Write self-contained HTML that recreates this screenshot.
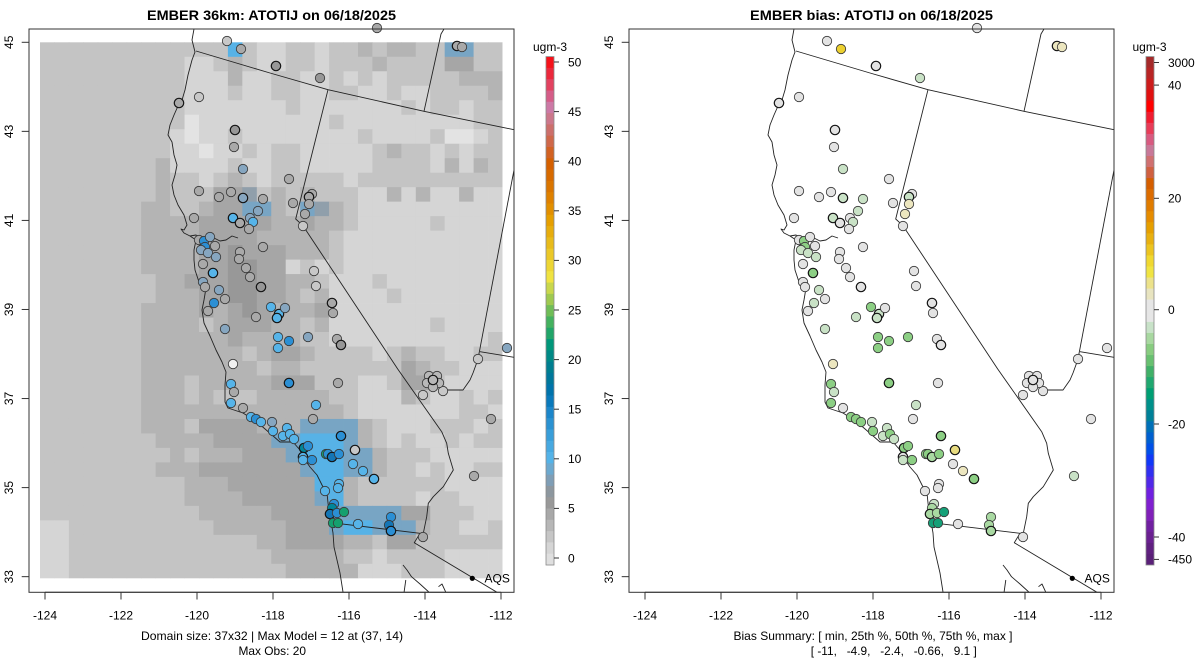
<!DOCTYPE html>
<html><head><meta charset="utf-8"><style>
html,body{margin:0;padding:0;background:#fff;}
svg{display:block;}
text{font-family:"Liberation Sans",Arial,Helvetica,sans-serif;fill:#000;}
</style></head><body>
<svg id="s" width="1200" height="672" viewBox="0 0 1200 672" xmlns="http://www.w3.org/2000/svg">
<defs>
<clipPath id="clipL"><rect x="29" y="29" width="485" height="563.3"/></clipPath>
<clipPath id="clipR"><rect x="629" y="29" width="485" height="563.3"/></clipPath>
</defs>
<rect width="1200" height="672" fill="#fff"/>
<g id="grid"></g>
<g id="mapL" clip-path="url(#clipL)" fill="none" stroke="#222" stroke-width="0.9" stroke-linejoin="round"></g>
<g id="mapR" clip-path="url(#clipR)" fill="none" stroke="#222" stroke-width="0.9" stroke-linejoin="round"></g>
<g id="dots"></g>
<g id="axes" stroke="#333" stroke-width="1" fill="none"></g>
<g id="cbar"></g>

<!-- titles -->
<text x="271.5" y="20" text-anchor="middle" font-weight="bold" font-size="14" textLength="249" lengthAdjust="spacingAndGlyphs">EMBER 36km: ATOTIJ on 06/18/2025</text>
<text x="871.5" y="20" text-anchor="middle" font-weight="bold" font-size="14" textLength="243" lengthAdjust="spacingAndGlyphs">EMBER bias: ATOTIJ on 06/18/2025</text>

<!-- bottom text -->
<text x="141" y="640" font-size="12" textLength="262" lengthAdjust="spacingAndGlyphs">Domain size: 37x32 | Max Model = 12 at (37, 14)</text>
<text x="238.5" y="655" font-size="12" textLength="67.5" lengthAdjust="spacingAndGlyphs">Max Obs: 20</text>
<text x="733.5" y="640" font-size="12" textLength="279" lengthAdjust="spacingAndGlyphs">Bias Summary: [ min, 25th %, 50th %, 75th %, max ]</text>
<text x="810.8" y="655" font-size="12" textLength="166" lengthAdjust="spacingAndGlyphs" xml:space="preserve">[ -11,   -4.9,   -2.4,   -0.66,   9.1 ]</text>

<!-- AQS labels -->
<circle cx="472.3" cy="578.3" r="2.6" fill="#000"/>
<text x="484.5" y="582.5" font-size="12">AQS</text>
<circle cx="1072.3" cy="578.3" r="2.6" fill="#000"/>
<text x="1084.5" y="582.5" font-size="12">AQS</text>

<!-- colorbar titles -->
<text x="550" y="51" font-size="12" text-anchor="middle">ugm-3</text>
<text x="1149.5" y="51" font-size="12" text-anchor="middle">ugm-3</text>
<g id="labels" font-size="12"></g>
</svg>
<script>
(function(){
const NS='http://www.w3.org/2000/svg';
function el(tag,attrs,parent){const e=document.createElementNS(NS,tag);for(const k in attrs)e.setAttribute(k,attrs[k]);parent.appendChild(e);return e;}
function txt(s,attrs,parent){const e=el('text',attrs,parent);e.textContent=s;return e;}
const $=id=>document.getElementById(id);

/* ---------- grid ---------- */
const rows=[
"CCCCCCCCCCCCCICBBCCBCCDCDDCCHHCC",
"CCCCCCCCCCBBCDCBBCCBCCCDCCCCEECC",
"CCCCCCCCCCBBBDBBCCBBCBCBCCCCCDDD",
"CCCCCCCCCCBBBCBBCCBBCCBBCBBCCCCD",
"CCCCCCCCCCBBBBBBBCBBBBBBBCBCCBCC",
"CCCCCCCCCCABBBBBBBBBCBBBBBBBBBCC",
"CCCCCCCCCBABBCBBBBBBBBCBBBBCAABC",
"CCCCCCCCCBBABBCB"+"CCBBBBBCDCCBCBCC",
"CCCCCCCCDBBBBCBB"+"CCBBBBBCCCCBDBDC",
"CCCCCCCCDCCBCDCB"+"CCCCCBCCCCCCCCCC",
"CCCCCCCCDCCCEEGC"+"DCDCCCBBDBDBBDBB",
"CCCCCCCDDCCDEEHH"+"DCHGDCBBBBBBBBBB",
"CCCCCCCDDDDEEEEE"+"DDEDDCBBBBBCBBBB",
"CCCCCCCDDDDEEEED"+"DDDDCBBBBBBBBBBB",
"CCCCCCCDDDDEEFEE"+"EDDDCBBBBBBBBBBB",
"CCCCCCCDDDDEEFFE"+"EBCBCBBBBBBBBBBB",
"CCCCCCCCDDEEEFFE"+"EDDCBBBCBBBBBBBB",
"CCCCCCCCDDDEEFFE"+"EDCDBBBBCBBBBBBB",
"CCCCCCCDDDDEDEFE"+"DDDEBBBBBBBBBBBB",
"CCCCCCCDDDDCDEEE"+"DDCDBBBBBBBCBBBB",
"CCCCCCCDDDDDDEDD"+"DDCCBBBBBBBBBBBC",
"CCCCCCCDDDDDDDCD"+"EEDCCCCBCDCCBBCC",
"CCCCCCCDDDDDDDDC"+"DDCCCCCCCEDCCBBB",
"CCCCCCCDDDCDDDDDEEECCCBBCEECBBBB",
"CCCCCCCDDDCDCCCDDDDDCCBBBDCBBCBC",
"CCCCCCCDDDDDDDDDDDDDDCBBBBBBBCCB",
"CCCCCCCDDDCEEEEDDDHHHHDCBBBCCCBC",
"CCCCCCCCDDDDEEEEHHIIIHDCBCBBCBCC",
"CCCCCCCCCDCDDDEEEHIIIHHDCCCBBBBB",
"CCCCCCCCDDDEEEEEEEHIIHHDCCBCBBCC",
"CCCCCCCCCCDDDEEEEEEIIDCCCCCCBBBB",
"CCCCCCCCCCDDDDEEEEEHIDCCCCBCCBBB",
"CCCCCCCCCCCDDDDDEEEEHHHHHEECCCBB",
"BBCCCCCCCCCCDDDDDEEEHIIHHHDCCBBC",
"BBCCCCCCCCCCCCCDDEEEEDDCEECCCCCC",
"BBCCCCCCCCCCCCCCDDDDDCCBCCCCBBBB",
"BBCCCCCCCCCCCCCCCDDDDDBBBCCCBBBB"];
const pal={A:'#e3e3e3',B:'#d5d5d5',C:'#c4c4c4',D:'#b4b4b4',E:'#a6a6a6',F:'#989898',G:'#909fab',H:'#78a5c4',I:'#57b2e6'};
const gx0=40,gy0=42.3,cw=462.5/32,ch=536/37;
const grid=$('grid');
rows.forEach((r,ri)=>{
  for(let c=0;c<32;c++){
    const x=gx0+c*cw,y=gy0+ri*ch;
    const w=(c==31?cw:cw+0.4),h=(ri==36?ch:ch+0.4);
    el('rect',{x:x.toFixed(2),y:y.toFixed(2),width:w.toFixed(2),height:h.toFixed(2),fill:pal[r[c]]||'#c4c4c4'},grid);
  }
});

/* ---------- map lines ---------- */
const lines=[
 [[194,29],[192,40],[195,52],[192,60],[188,75],[185,90],[182,100],[178,106],[174,115],[170,125],[168,135],[172,142],[174,155],[177,165],[175,175],[172,185],[174,195],[178,205],[184,215],[187,225],[184,230],[181,229],[184,233],[190,236],[196,240],[194,250],[194,260],[195,270],[199,282],[206,288],[204,300],[202,310],[204,323],[210,336],[216,350],[222,362],[226,372],[225,385],[225,402],[228,408],[243,413],[257,422],[272,435],[280,442],[293,442],[300,450],[303,457],[310,467],[317,475],[323,487],[327,493],[328,503],[330,517],[332,527],[333,533],[334,547],[337,560],[340,573],[343,592]],
 [[190,236],[196,235],[202,238],[208,240],[214,238],[220,241],[226,240],[232,236],[238,238]],
 [[196,240],[200,246],[204,252],[208,256]],
 [[196,51],[270,73],[328,89.7],[424,111.3],[514,129.7]],
 [[328,89.7],[295.7,219],[303,225.7],[397.7,369],[441.7,431.7]],
 [[424,111.3],[441,34],[444,29]],
 [[441.7,431.7],[446.7,443.3],[448.3,453.3],[453.3,470],[443.3,486.7],[433.3,496.7],[428.3,503.3],[426.7,516.7],[423.3,533.3],[420,536.7]],
 [[336.7,523.3],[420,533.3]],
 [[420,533.3],[414.3,542.7],[497,592.3]],
 [[441,390],[452,390],[463,390],[470,380],[473,373],[477,362],[478.3,357.3]],
 [[478.3,357.3],[514,170]],
 [[480,351.7],[514,357.3]],
 [[403,565],[407,570],[411.5,576.7],[420,584],[428.8,592]],
 [[405.8,580],[404,592.7]],
 [[438.5,586.7],[442,584],[446,592.7]]
];
function pathD(pts,dx){return 'M'+pts.map(p=>(p[0]+dx).toFixed(1)+','+p[1].toFixed(1)).join('L');}
lines.forEach(l=>{el('path',{d:pathD(l,0)},$('mapL'));el('path',{d:pathD(l,600)},$('mapR'));});

/* ---------- dots ---------- */
const LC={g0:'#dcdcdc',g1:'#c8c8c8',g2:'#a9a9a9',g3:'#979797',gb:'#b8b8b8',bg:'#86a6c0',lb:'#56b4e9',b:'#2b8fd4',db:'#1476b6',t:'#00869a',gr:'#15a06e',w:'#f0f0f0'};
const RC={L:'#e3e3e3',P:'#c9e2c6',G:'#a9d9a2',M:'#8ccf84',T:'#15a078',Y:'#ecd030',Cm:'#ece6bf',Y2:'#e8dc80'};
const dots=[
[227,41,'g1','L'],[241,49,'g2','Y'],[276,66,'g3','L',1],[179,103,'g2','L',1],[199,97,'g1','L'],
[235,130,'g3','L',1],[234,147,'g2','L'],[243,169,'bg','P'],[289,179,'g2','L'],[320,78,'g3','P'],
[377,28,'g2','L'],[457,46,'g2','Cm',1],[462,47,'g2','Cm'],[199,191,'g2','L'],[219,197,'g2','L'],
[231,192,'g2','L'],[243,198,'bg','P',1],[263,199,'g2','P'],[258,211,'bg','P'],[233,218,'lb','P',1],
[240,223,'g2','L',1],[250,218,'bg','L'],[253,222,'lb','P'],[249,229,'g2','L'],[194,218,'g2','L'],
[293,203,'g2','L'],[312,194,'g2','L'],[309,197,'g2','P',1],[309,204,'g2','Cm'],[305,214,'g2','Cm'],
[303,226,'g1','L'],[199,240,'g2','L'],[204,241,'b','M'],[205,247,'b','M'],[210,237,'bg','L'],
[215,246,'g2','L'],[201,250,'bg','P'],[208,253,'bg','P'],[216,257,'bg','P'],[203,264,'g2','L'],
[213,273,'lb','M',1],[240,252,'g2','L'],[239,259,'g2','L'],[263,247,'g2','L'],[246,268,'g2','L'],
[250,277,'g2','L'],[261,287,'g3','L',1],[203,282,'bg','L'],[205,287,'g2','L'],[219,290,'bg','P'],
[225,299,'g2','L'],[214,303,'b','P'],[208,311,'g2','L'],[225,329,'bg','P'],[256,317,'g2','P'],
[271,307,'lb','M'],[279,314,'lb','P',1],[277,318,'lb','P',1],[285,308,'bg','L'],[278,337,'lb','M'],
[289,341,'b','M'],[278,348,'lb','M'],[308,337,'bg','M'],[314,271,'g1','L'],[316,286,'g1','L'],
[332,303,'g2','L',1],[333,313,'g2','L'],[337,339,'g2','L'],[341,345,'g3','L',1],[478,359,'g1','L'],
[507,348,'bg','L'],[233,364,'w','Cm'],[231,384,'lb','M'],[234,392,'g2','P'],[231,403,'lb','M'],
[243,408,'g2','L'],[251,417,'lb','M'],[256,419,'b','M'],[261,422,'lb','M'],[272,422,'bg','P'],
[273,431,'lb','M'],[287,428,'lb','P'],[283,436,'lb','P'],[290,434,'lb','M'],[294,439,'lb','P'],
[289,383,'b','M',1],[338,383,'g2','L'],[316,405,'lb','P'],[313,419,'g2','L'],[341,436,'b','M',1],
[304,448,'t','M',1],[308,446,'b','M'],[303,457,'lb','L',1],[303,460,'lb','P'],[312,460,'b','M'],
[326,454,'gr','M'],[328,454,'b','M'],[332,457,'db','G',1],[339,454,'b','M'],[355,450,'g1','Y2',1],
[353,464,'lb','L'],[363,471,'lb','Cm'],[374,479,'lb','M',1],[339,484,'lb','L'],[338,488,'lb','L'],
[325,491,'lb','L'],[334,504,'b','P'],[332,508,'t','G'],[330,514,'db','G',1],[337,513,'b','G'],
[344,512,'gr','T'],[333,523,'gr','T'],[338,523,'gr','T'],[358,524,'lb','L'],[391,517,'b','G'],
[389,525,'db','G'],[391,531,'b','G',1],[423,537,'g2','L'],[423,395,'g1','L'],[443,391,'g1','L'],
[491,419,'g2','L'],[474,476,'g2','P'],
[429,376,'gb','L'],[437,376,'gb','L'],[427,383,'gb','L'],[439,383,'gb','L'],[433,387,'gb','L'],[433,380,'gb','L',1]
];
const dg=$('dots');
dots.forEach(d=>{
  const sw=d[4]?1.2:0.85, sc=d[4]?'#151515':'#3a3a3a';
  el('circle',{cx:d[0],cy:d[1],r:4.7,fill:LC[d[2]],stroke:sc,'stroke-width':sw},dg);
  el('circle',{cx:d[0]+600,cy:d[1],r:4.7,fill:RC[d[3]],stroke:sc,'stroke-width':sw},dg);
});

/* ---------- axes ---------- */
const ax=$('axes'), lab=$('labels');
[0,600].forEach(dx=>{
  el('rect',{x:29+dx,y:29,width:485,height:563.3},ax);
  for(let lon=-124;lon<=-112;lon+=2){
    const x=45+(lon+124)*38+dx;
    el('line',{x1:x,y1:592.3,x2:x,y2:599.5},ax);
    txt(String(lon),{x:x,y:619.3,'text-anchor':'middle'},lab);
  }
  el('line',{x1:45+dx,y1:592.3,x2:501+dx,y2:592.3},ax);
  for(let lat=45;lat>=33;lat-=2){
    const y=42.3+(45-lat)*44.53;
    el('line',{x1:21.7+dx,y1:y,x2:29+dx,y2:y},ax);
    txt(String(lat),{transform:'translate('+(13+dx)+','+y.toFixed(1)+') rotate(-90)','text-anchor':'middle'},lab);
  }
  el('line',{x1:29+dx,y1:42.3,x2:29+dx,y2:576.7},ax);
});

/* ---------- colorbars ---------- */
const cb=$('cbar');
function hex2rgb(h){return [parseInt(h.substr(1,2),16),parseInt(h.substr(3,2),16),parseInt(h.substr(5,2),16)];}
function rgb2hex(a){return '#'+a.map(v=>Math.round(v).toString(16).padStart(2,'0')).join('');}
const anchors=[[-1,'#e4e4e4'],[0.5,'#dcdcdc'],[2,'#c8c8c8'],[3.5,'#b4b4b4'],[5,'#a0a0a0'],[6,'#939393'],[7,'#8a98a4'],[8.5,'#76a3c3'],[10,'#56b4e9'],[12,'#3ea2dc'],[14.5,'#1f88cc'],[16.5,'#0072b2'],[18.5,'#007896'],[20,'#00848a'],[21.5,'#00977a'],[23,'#2aa964'],[24.5,'#5bb85a'],[26,'#9cc850'],[27.3,'#ccd84c'],[28.3,'#f0e442'],[30,'#ecd030'],[32,'#e8b818'],[34,'#e6a000'],[36,'#e08400'],[38,'#d87000'],[40,'#d55e00'],[41.5,'#d0643a'],[43,'#cc6e66'],[44.5,'#cc7890'],[45.5,'#cc79a7'],[46.5,'#d4608c'],[47.5,'#e04868'],[48.5,'#e83048'],[49.5,'#f01c28'],[51,'#ff0000']];
function cmap(v){
  if(v<=anchors[0][0])return anchors[0][1];
  for(let i=1;i<anchors.length;i++){
    if(v<=anchors[i][0]){const a=anchors[i-1],b=anchors[i];const t=(v-a[0])/(b[0]-a[0]);
      const ca=hex2rgb(a[1]),cb2=hex2rgb(b[1]);return rgb2hex(ca.map((x,k)=>x+(cb2[k]-x)*t));}
  }
  return anchors[anchors.length-1][1];
}
const top=56.6,bot=565,n=45,sh=(bot-top)/n;
for(let i=0;i<n;i++){
  const v=50.6-(i+0.5)*(51.3/n);
  el('rect',{x:546,y:(top+i*sh).toFixed(2),width:8,height:(sh+0.4).toFixed(2),fill:cmap(v)},cb);
}
el('rect',{x:546,y:top,width:8,height:bot-top,fill:'none',stroke:'#8a8a8a','stroke-width':0.8},cb);
for(let v=0;v<=50;v+=5){
  const y=558-v*9.92;
  el('line',{x1:554,y1:y,x2:559,y2:y,stroke:'#333','stroke-width':1},cb);
  txt(String(v),{x:568,y:(y+4.3).toFixed(1)},lab);
}
/* right colorbar */
const up=['#a52a2a','#b82525','#cc1c1c','#e01010','#ff0000','#f01c30','#e83c58','#d85a80','#c87898','#d07070','#d06040','#d55e00','#dc6c00','#e07c00','#e68c00','#e69f00','#e8b010','#ecc420','#f0d830','#f0e442','#ece28a','#e8e4c0'];
const dn=['#c8e2c8','#a8d8a0','#88cc80','#68c070','#40b068','#20a870','#009e73','#00908a','#008098','#0070b8','#0060d0','#0050e8','#1038f8','#3030f0','#5028e8','#7020e0','#8020d0','#8020b8','#7020a0','#6a2090','#602080','#5a2078'];
const uh=(299.6-top)/22, dh=(bot-321.9)/22;
up.forEach((c,i)=>el('rect',{x:1146,y:(top+i*uh).toFixed(2),width:8,height:(uh+0.4).toFixed(2),fill:c},cb));
el('rect',{x:1146,y:299.6,width:8,height:22.7,fill:'#e6e6e6'},cb);
dn.forEach((c,i)=>el('rect',{x:1146,y:(321.9+i*dh).toFixed(2),width:8,height:(i==21?dh:dh+0.4).toFixed(2),fill:c},cb));
el('rect',{x:1146,y:top,width:8,height:bot-top,fill:'none',stroke:'#8a8a8a','stroke-width':0.8},cb);
[['3000',62.5],['40',85.1],['20',198.3],['0',309.7],['-20',424],['-40',537],['-450',559.4]].forEach(p=>{
  el('line',{x1:1154,y1:p[1],x2:1159,y2:p[1],stroke:'#333','stroke-width':1},cb);
  txt(p[0],{x:1168,y:(p[1]+4.3).toFixed(1)},lab);
});
})();
</script>
</body></html>
